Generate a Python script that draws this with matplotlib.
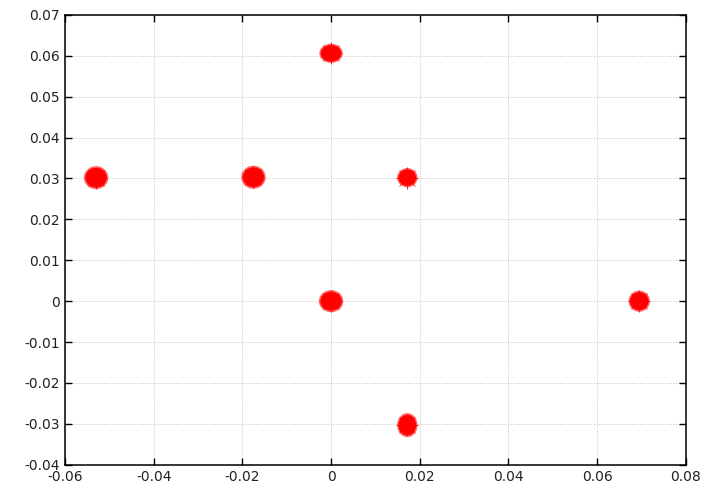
import matplotlib
matplotlib.use("Agg")
import matplotlib.pyplot as plt
from matplotlib.patches import Ellipse
import numpy as np

# cluster centres
cx = [-0.053, -0.0175, 0.0172, 0.0, 0.0, 0.0695, 0.0172]
cy = [0.0302, 0.0303, 0.0302, 0.0606, 0.0, 0.0, -0.0303]
# approximate spread of each cluster (data units)
sx = [0.0024, 0.0024, 0.0020, 0.0023, 0.0024, 0.0021, 0.0020]
sy = [0.0024, 0.0024, 0.0020, 0.0020, 0.0023, 0.0022, 0.0025]

xticks = [-0.06, -0.04, -0.02, 0, 0.02, 0.04, 0.06, 0.08]
xlabels = ["-0.06", "-0.04", "-0.02", "0", "0.02", "0.04", "0.06", "0.08"]
yticks = [-0.04, -0.03, -0.02, -0.01, 0, 0.01, 0.02, 0.03, 0.04, 0.05, 0.06, 0.07]
ylabels = ["-0.04", "-0.03", "-0.02", "-0.01", "0", "0.01", "0.02", "0.03",
           "0.04", "0.05", "0.06", "0.07"]

fig = plt.figure(figsize=(7.07, 4.95), dpi=100)
ax = fig.add_axes([0.092, 0.061, 0.878, 0.909])

for x, y, rx, ry in zip(cx, cy, sx, sy):
    ax.add_patch(Ellipse((x, y), 2.3 * rx, 2.35 * ry, color="red", alpha=0.6, lw=0, zorder=3))
    ax.add_patch(Ellipse((x, y), 2 * rx, 2 * ry, color="red", lw=0, zorder=4))
ax.plot(cx, cy, "+", color="red", markersize=16, markeredgewidth=0.6, zorder=4)
ax.plot(cx, cy, "x", color="red", markersize=12, markeredgewidth=0.5, zorder=4)

ax.set_xlim(-0.06, 0.08)
ax.set_ylim(-0.04, 0.07)
ax.set_xticks(xticks)
ax.set_xticklabels(xlabels)
ax.set_yticks(yticks)
ax.set_yticklabels(ylabels)
ax.tick_params(direction="in", top=True, right=True, length=5, width=1,
               labelsize=10, colors="black")
ax.tick_params(labelcolor="#222222")
ax.grid(True, color="#c4c4c4", linestyle=":", linewidth=0.7)
ax.set_axisbelow(True)
for s in ax.spines.values():
    s.set_linewidth(1.1)

fig.savefig("out.png", dpi=100)
